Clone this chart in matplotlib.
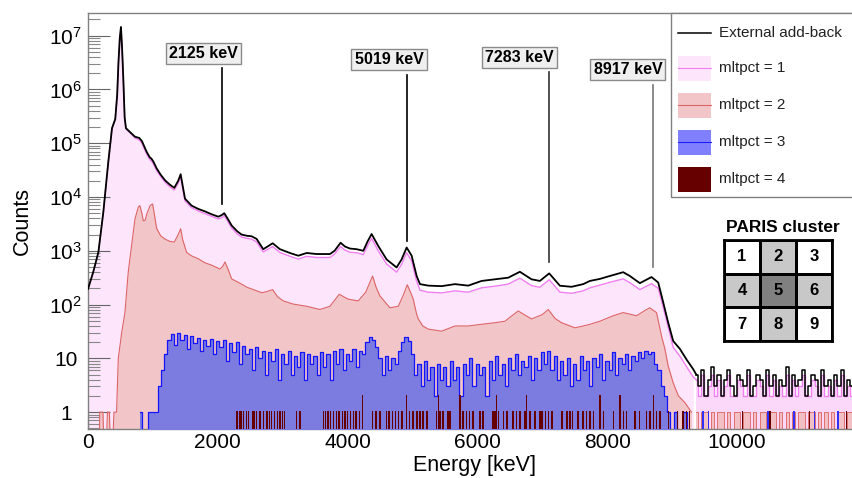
import matplotlib
matplotlib.use("Agg")
import matplotlib.pyplot as plt
import numpy as np
from matplotlib.patches import Rectangle
from matplotlib.lines import Line2D
from matplotlib.colors import ListedColormap
from matplotlib.ticker import FixedLocator, MultipleLocator, NullFormatter

plt.rcParams['font.family'] = 'Liberation Sans'
plt.rcParams['mathtext.fontset'] = 'custom'
plt.rcParams['mathtext.rm'] = 'Liberation Sans'
plt.rcParams['mathtext.it'] = 'Liberation Sans:italic'
plt.rcParams['mathtext.bf'] = 'Liberation Sans:bold'

# ---- spectrum values (energy in keV, counts per bin) ----
e_main = [0, 80, 160, 236, 313, 370, 420, 450, 470, 490,
          508, 525, 544, 565, 585, 650, 724, 790, 830, 904,
          950, 981, 1010, 1058, 1120, 1186, 1260, 1330, 1390, 1428,
          1460, 1495, 1597, 1700, 1803, 1900, 2008, 2060, 2100, 2150,
          2214, 2300, 2368, 2450, 2522, 2599, 2701, 2790, 2846, 2958,
          3112, 3241, 3370, 3524, 3729, 3800, 3893, 3960, 4037, 4140,
          4243, 4310, 4371, 4473, 4602, 4756, 4833, 4911, 4988, 5065,
          5116, 5244, 5450, 5655, 5860, 6066, 6271, 6476, 6656, 6836,
          6964, 7108, 7273, 7453, 7632, 7735, 7889, 8043, 8248, 8351,
          8505, 8685, 8788, 8865, 8942, 9019, 9122, 9225, 9327]

n_total = [195, 400, 940, 5200, 4.5e4, 1.9e5, 2.8e5, 8e5, 3.3e6, 9e6,
           1.45e7, 6e6, 1.6e6, 3e5, 1.9e5, 1.6e5, 1.32e5, 1.25e5, 1.1e5, 6.9e4,
           5.5e4, 5.1e4, 4.5e4, 3.4e4, 2.6e4, 2.05e4, 1.7e4, 1.48e4, 2.0e4, 2.65e4,
           1.6e4, 9.3e3, 6.9e3, 6.0e3, 5.4e3, 4.8e3, 4.3e3, 4.6e3, 5.0e3, 4.0e3,
           2950, 2300, 2000, 1900, 1860, 1660, 1070, 1250, 1380, 1070,
           910, 810, 910, 870, 870, 1000, 1410, 1200, 1100, 1070,
           1000, 1500, 2050, 1230, 690, 490, 690, 1150, 810, 340,
           240, 225, 220, 240, 225, 275, 295, 316, 407, 295,
           275, 380, 224, 214, 240, 275, 300, 340, 400, 340,
           250, 325, 257, 110, 46, 21, 15, 9.5, 6.3]

n_mlt1 = [195, 400, 940, 5200, 4.5e4, 1.9e5, 2.8e5, 8e5, 3.3e6, 9e6,
          1.4e7, 6e6, 1.6e6, 3e5, 1.85e5, 1.55e5, 1.25e5, 1.15e5, 1.0e5, 6.3e4,
          5.0e4, 4.6e4, 4.1e4, 3.1e4, 2.4e4, 1.9e4, 1.55e4, 1.35e4, 1.8e4, 2.4e4,
          1.45e4, 8.5e3, 6.3e3, 5.5e3, 4.9e3, 4.4e3, 3.9e3, 4.1e3, 4.5e3, 3.6e3,
          2650, 2050, 1800, 1700, 1650, 1450, 950, 1100, 1200, 930,
          790, 700, 790, 750, 750, 870, 1200, 1030, 940, 920,
          850, 1250, 1700, 1000, 570, 400, 560, 920, 650, 270,
          185, 170, 165, 180, 170, 205, 220, 240, 310, 225,
          210, 290, 170, 162, 180, 205, 230, 260, 300, 255,
          190, 245, 200, 90, 38, 16, 11, 7, 4.5]

# noisy tail above ~9.3 MeV, 50 keV bins starting at 9375 keV
tail_total = [5, 3, 6, 2, 4, 7, 3,  5, 2, 4, 6, 3, 2, 5,  4, 3, 6, 2, 3, 5, 4,
              2, 6, 3, 5, 2, 4, 3,  7, 2, 5, 3, 4, 6, 2,  3, 5, 4, 2, 6, 3, 4,
              2, 5, 3, 6, 2, 4, 3]
tail_mlt1 = [4, 2, 5, 2, 3, 5, 2,  4, 2, 3, 5, 2, 2, 4,  3, 2, 5, 2, 2, 4, 3,
             2, 5, 2, 4, 2, 3, 2,  5, 2, 4, 2, 3, 5, 2,  2, 4, 3, 2, 5, 2, 3,
             2, 4, 2, 5, 2, 3, 2]
tail_mlt2 = [1, 0, 1, 1, 0, 1, 0,  1, 1, 0, 1, 0, 1, 1,  0, 1, 1, 0, 1, 0, 1,
             1, 0, 1, 1, 0, 1, 0,  1, 0, 1, 0, 1, 1, 0,  1, 1, 0, 1, 0, 1, 0,
             1, 0, 1, 1, 0, 1, 1]

e_mlt2 = [170, 180, 230, 260, 300, 330, 360, 400, 440, 467,
          519, 570, 620, 672, 724, 775, 800, 830, 852, 880,
          910, 960, 996, 1020, 1058, 1120, 1186, 1260, 1330, 1390,
          1428, 1460, 1520, 1600, 1700, 1800, 1906, 2034, 2080, 2111,
          2160, 2214, 2300, 2368, 2450, 2522, 2600, 2676, 2760, 2846,
          2920, 3010, 3164, 3370, 3575, 3729, 3800, 3872, 3940, 4011,
          4165, 4280, 4386, 4440, 4499, 4653, 4782, 4860, 4920, 4970,
          5013, 5060, 5090, 5160, 5244, 5450, 5655, 5860, 6066, 6271,
          6425, 6630, 6836, 7000, 7093, 7200, 7298, 7504, 7632, 7735,
          7889, 8094, 8248, 8454, 8600, 8659, 8762, 8839, 8891, 8942,
          9019, 9100, 9200, 9300]
n_mlt2 = [0, 1, 1, 0, 1, 1, 0, 1, 1, 10,
          30, 72, 400, 1260, 3900, 6500, 6900, 5000, 3600, 3700,
          5000, 7000, 7400, 5000, 2600, 1900, 1650, 1500, 1450, 2000,
          2570, 1600, 930, 800, 710, 600, 540, 457, 520, 620,
          450, 300, 265, 240, 210, 195, 180, 166, 175, 190,
          140, 117, 102, 93, 81, 93, 120, 155, 140, 126,
          117, 170, 340, 210, 145, 87, 93, 150, 234, 170,
          126, 70, 54, 40, 35, 32, 40, 40, 43, 46,
          49, 76, 54, 65, 81, 55, 46, 37, 40, 43,
          49, 62, 71, 62, 80, 87, 71, 26, 15, 7.2,
          3.5, 2, 1.5, 1]

# mltpct = 3, 50 keV bins starting at 800 keV
n_mlt3 = [1, 0, 0, 1, 1, 1, 3, 6, 12, 22,
          28, 18, 30, 22, 27, 15, 26, 19, 24, 14,
          22, 17, 23, 12, 21, 16, 22, 9, 19, 13,
          20, 8, 17, 12, 15, 6, 16, 10, 14, 5,
          13, 9, 15, 4, 12, 8, 14, 5, 11, 7,
          13, 4, 12, 8, 11, 5, 13, 7, 12, 4,
          14, 8, 15, 6, 12, 9, 15, 7, 14, 12,
          20, 25, 22, 16, 10, 5, 11, 6, 10, 8,
          14, 20, 25, 21, 12, 5, 8, 3, 9, 4,
          7, 2, 8, 4, 7, 3, 9, 4, 7, 2,
          8, 5, 10, 3, 8, 5, 7, 2, 9, 4,
          11, 5, 8, 3, 10, 6, 12, 5, 9, 7,
          11, 4, 10, 6, 13, 8, 14, 6, 11, 4,
          9, 5, 10, 3, 8, 4, 11, 6, 9, 3,
          10, 7, 12, 4, 9, 6, 13, 5, 10, 8,
          12, 6, 11, 9, 13, 10, 14, 12, 13, 8,
          6, 3, 2, 1, 0, 1, 0, 0, 1, 0]
mlt3_single = [9480, 9560, 10480, 10880, 11200, 11560]

# mltpct = 4: bins with one or two counts
mlt4_ones = [2295, 2330, 2360, 2400, 2440, 2470, 2530, 2560, 2600, 2650, 2700,
             2760, 2800, 2830, 2870, 2920, 2960, 3000, 3030, 3215, 3267, 3625,
             3660, 3700, 3740, 3780, 3830, 3870, 3920, 3960, 4000, 4050, 4090,
             4130, 4180, 4390, 4440, 4500, 4600, 4640, 4690, 4740, 4790, 4840,
             4960, 5010, 5070, 5116, 5162, 5225, 5372, 5424, 5470, 5547, 5580,
             5778, 5830, 5880, 5932, 6040, 6086, 6240, 6271, 6322, 6400, 6456,
             6548, 6600, 6660, 6733, 6810, 6888, 6965, 6995, 7050, 7100, 7149,
             7303, 7380, 7427, 7470, 7550, 7630, 7680, 7735, 7786, 7940, 8094,
             8250, 8300, 8428, 8505, 8608, 8660, 8760, 8814, 8942, 9080, 9170,
             9220, 9270, 10090, 10510, 11125, 11695]
mlt4_twos = [4232, 4911, 5398, 5732, 6297, 6759, 7889, 8197, 8710]

# ---- derived x arrays ----
tail_e = 9375 + 50 * np.arange(len(tail_total))
e_m3 = 800 + 50 * np.arange(len(n_mlt3))

base = 0.05
def fl(v):
    return np.maximum(np.asarray(v, float), base)

W, H = 853, 478
fig = plt.figure(figsize=(W / 100, H / 100), dpi=100)
ax = fig.add_axes([88 / W, 1 - 429.3 / H, 1 - 88 / W, (429.3 - 13.3) / H])
ax.set_yscale('log')

# mltpct = 1
ax.fill_between(e_main, fl(n_mlt1), base, color='#fde6fc', lw=0, zorder=1)
ax.fill_between(tail_e, fl(tail_mlt1), base, step='mid', color='#fbd8fa', lw=0, zorder=1)
ax.plot(e_main + [tail_e[0]], fl(n_mlt1 + [tail_mlt1[0]]), color='#f27ef2', lw=1.0, zorder=1.5)
ax.plot(tail_e, fl(tail_mlt1), drawstyle='steps-mid', color='#f27ef2', lw=1.0, zorder=1.5)
# mltpct = 2
ax.fill_between(e_mlt2, fl(n_mlt2), base, color='#f2c6c9', lw=0, zorder=2)
ax.fill_between(tail_e, fl(tail_mlt2), base, step='mid', color='#f2c0c4', lw=0, zorder=2)
ax.plot(e_mlt2, fl(n_mlt2), color='#dc6464', lw=0.8, zorder=2.5)
ax.plot(tail_e, fl(tail_mlt2), drawstyle='steps-mid', color='#e07070', lw=0.7, zorder=2.5)
# mltpct = 3
ax.fill_between(e_m3, fl(n_mlt3), base, step='mid', color='#7c7ce0', lw=0, zorder=3)
ax.plot(e_m3, fl(n_mlt3), drawstyle='steps-mid', color='#1414ff', lw=0.9, zorder=3.5)
ax.bar(mlt3_single, np.ones(len(mlt3_single)), width=20, bottom=base, color='#3030ff', zorder=3.6)
# mltpct = 4
ax.bar(mlt4_ones, np.ones(len(mlt4_ones)), width=20, bottom=base, color='#660000', lw=0, zorder=4)
ax.bar(mlt4_twos, 2 * np.ones(len(mlt4_twos)), width=20, bottom=base, color='#660000', lw=0, zorder=4)
# external add-back
ax.plot(e_main + [tail_e[0]], fl(n_total + [tail_total[0]]), color='black', lw=1.3, zorder=5)
ax.plot(tail_e, fl(tail_total), drawstyle='steps-mid', color='black', lw=1.1, zorder=5)

ax.set_xlim(0, 11790)
ax.set_ylim(0.48, 2.6e7)

# axes styling in ROOT look
for s in ['top', 'left', 'bottom']:
    ax.spines[s].set_color('#808080')
    ax.spines[s].set_linewidth(1.0)
ax.spines['right'].set_visible(False)

ymaj = [1, 10, 1e2, 1e3, 1e4, 1e5, 1e6, 1e7]
ylab = ['1', '10', '$10^{2}$', '$10^{3}$', '$10^{4}$', '$10^{5}$', '$10^{6}$', '$10^{7}$']
ymin_t = [m * 10 ** k for k in range(-1, 8) for m in range(2, 10) if 0.48 < m * 10 ** k < 2.6e7]
ax.yaxis.set_major_locator(FixedLocator(ymaj))
ax.set_yticklabels(ylab)
ax.yaxis.set_minor_locator(FixedLocator(ymin_t))
ax.yaxis.set_minor_formatter(NullFormatter())
ax.set_xticks([0, 2000, 4000, 6000, 8000, 10000])
ax.set_xticklabels(['0', '2000', '4000', '6000', '8000', '10000'])
ax.xaxis.set_minor_locator(MultipleLocator(500))

ax.tick_params(axis='y', which='major', direction='in', length=15.8, width=0.8,
               color='#666666', labelsize=15, pad=16)
ax.tick_params(axis='y', which='minor', direction='in', length=8.5, width=0.8, color='#888888')
ax.tick_params(axis='x', which='major', direction='in', length=8.5, width=0.8,
               color='#666666', labelsize=15, pad=3)
ax.tick_params(axis='x', which='minor', direction='in', length=5, width=0.8, color='#888888')
ax.tick_params(right=False, top=False, which='both')
for lab in ax.get_yticklabels():
    lab.set_horizontalalignment('center')

ax.set_xlabel('Energy [keV]', fontsize=15.5)
ax.set_ylabel('Counts', fontsize=15.5)
ax.xaxis.set_label_coords((475 - 88) / 765, -0.062)
ax.yaxis.set_label_coords(-0.072, 0.5)

# peak markers
ann_labels = ['2125 keV', '5019 keV', '7283 keV', '8917 keV']
ann_box = [(1780, 4.6e6), (4638, 3.6e6), (6649, 3.95e6), (8320, 2.35e6)]
ann_line = [(2065, 2.5e6, 7.4e3), (4915, 1.86e6, 1.5e3), (7103, 2.1e6, 615), (8706, 1.2e6, 494)]
ann_col = ['black', 'black', '#333333', '#777777']
for lab, (bx, by), (lx, y1, y2), c in zip(ann_labels, ann_box, ann_line, ann_col):
    ax.text(bx, by, lab, ha='center', va='center', fontsize=11.5, fontweight='bold', zorder=8,
            bbox=dict(boxstyle='square,pad=0.2', fc='#efefef', ec='#8a8a8a', lw=1))
    ax.plot([lx, lx], [y1, y2], color=c, lw=1.2, zorder=8)

# legend drawn in figure pixels
def fx(x):
    return x / W

def fy(y):
    return 1 - y / H

tf = fig.transFigure
fig.add_artist(Rectangle((fx(671), fy(197)), fx(200), (197 - 13.3) / H, transform=tf,
                         fc='white', ec='#808080', lw=1, zorder=10))
leg_labels = ['External add-back', 'mltpct = 1', 'mltpct = 2', 'mltpct = 3', 'mltpct = 4']
leg_y = [33, 68, 105, 142, 179]
leg_face = [None, '#fde6fc', '#f2c6c9', '#8080ff', '#660000']
leg_line = ['black', '#f27ef2', '#dc6464', '#2020ff', None]
for lab, yy, fc, lc in zip(leg_labels, leg_y, leg_face, leg_line):
    if fc is not None:
        fig.add_artist(Rectangle((fx(678), fy(yy + 12.5)), fx(33), 25 / H, transform=tf,
                                 fc=fc, ec='none', zorder=11))
    if lc is not None:
        fig.add_artist(Line2D([fx(678), fx(711)], [fy(yy), fy(yy)], transform=tf,
                              color=lc, lw=1.1 if fc is None else 0.8, zorder=12))
    fig.text(fx(719), fy(yy), lab, va='center', ha='left', fontsize=11, color='#222222', zorder=12)

# PARIS cluster sketch
cluster_shade = [[0, 1, 0], [1, 2, 1], [0, 1, 0]]
cluster_ids = [[1, 2, 3], [4, 5, 6], [7, 8, 9]]
fig.text(fx(783), fy(228), 'PARIS cluster', ha='center', va='center', fontsize=12.5, fontweight='bold')
cax = fig.add_axes([fx(724), fy(341), 108 / W, 101 / H])
cax.pcolormesh(np.array(cluster_shade)[::-1], cmap=ListedColormap(['white', '#c8c8c8', '#808080']),
               edgecolors='black', linewidth=2)
for i in range(3):
    for j in range(3):
        cax.text(j + 0.5, 2.5 - i, str(cluster_ids[i][j]), ha='center', va='center',
                 fontsize=12, fontweight='bold')
cax.set_xlim(0, 3)
cax.set_ylim(0, 3)
cax.set_xticks([])
cax.set_yticks([])
for s in cax.spines.values():
    s.set_linewidth(2)

fig.savefig('out.png', dpi=100)
